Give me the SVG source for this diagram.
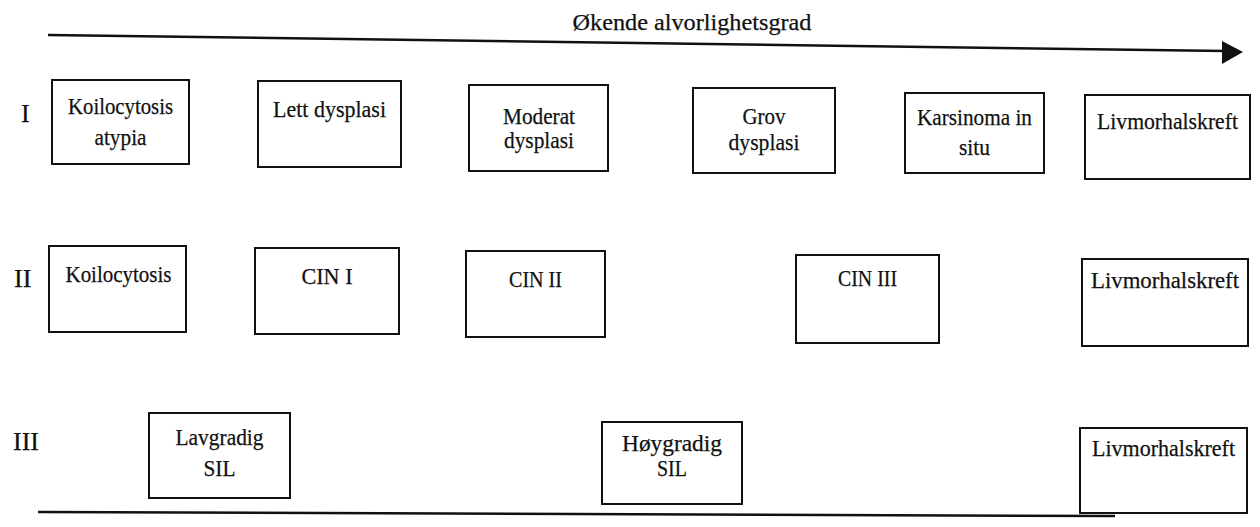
<svg xmlns="http://www.w3.org/2000/svg" width="1260" height="527" viewBox="0 0 1260 527">
<style>
.box{fill:#fff;stroke:#111;stroke-width:2}
.t{font-family:"Liberation Serif","Times New Roman",serif;font-size:24px;fill:#111;stroke:#111;stroke-width:0.25;text-anchor:middle}
.lbl{font-family:"Liberation Serif","Times New Roman",serif;font-size:26px;fill:#111;stroke:#111;stroke-width:0.25}
.ln{stroke:#111;stroke-width:2.5;fill:none}
</style>
<rect width="1260" height="527" fill="#fff"/>
<g id="axis">
<text x="692" y="30" class="t" textLength="239" lengthAdjust="spacingAndGlyphs">Økende alvorlighetsgrad</text>
<line class="ln" x1="48" y1="35" x2="1226" y2="51"/>
<polygon points="1222,41 1243,52 1222,64" fill="#111"/>
<line class="ln" x1="38" y1="512" x2="1115" y2="516"/>
</g>
<g id="row-labels">
<text x="21" y="122" class="lbl">I</text>
<text x="14" y="287" class="lbl">II</text>
<text x="13" y="450" class="lbl">III</text>
</g>
<g id="connectors"></g>
<g id="n1"><rect class="box" x="52" y="80" width="137" height="84"/><text class="t" x="120.5" y="114" textLength="105" lengthAdjust="spacingAndGlyphs">Koilocytosis</text><text class="t" x="120.5" y="145" textLength="52" lengthAdjust="spacingAndGlyphs">atypia</text></g>
<g id="n2"><rect class="box" x="258" y="81" width="143" height="86"/><text class="t" x="329.5" y="117" textLength="113" lengthAdjust="spacingAndGlyphs">Lett dysplasi</text></g>
<g id="n3"><rect class="box" x="469" y="85" width="139" height="86"/><text class="t" x="539" y="124" textLength="72" lengthAdjust="spacingAndGlyphs">Moderat</text><text class="t" x="539" y="148" textLength="70" lengthAdjust="spacingAndGlyphs">dysplasi</text></g>
<g id="n4"><rect class="box" x="693" y="88" width="142" height="85"/><text class="t" x="764" y="124" textLength="43" lengthAdjust="spacingAndGlyphs">Grov</text><text class="t" x="764" y="150" textLength="71" lengthAdjust="spacingAndGlyphs">dysplasi</text></g>
<g id="n5"><rect class="box" x="905" y="93" width="139" height="80"/><text class="t" x="974.5" y="125" textLength="115" lengthAdjust="spacingAndGlyphs">Karsinoma in</text><text class="t" x="974.5" y="155" textLength="31" lengthAdjust="spacingAndGlyphs">situ</text></g>
<g id="n6"><rect class="box" x="1085" y="95" width="165" height="84"/><text class="t" x="1167.5" y="129" textLength="141" lengthAdjust="spacingAndGlyphs">Livmorhalskreft</text></g>
<g id="n7"><rect class="box" x="49" y="246" width="137" height="86"/><text class="t" x="118.5" y="282" textLength="106" lengthAdjust="spacingAndGlyphs">Koilocytosis</text></g>
<g id="n8"><rect class="box" x="255" y="248" width="144" height="86"/><text class="t" x="327" y="284" textLength="51" lengthAdjust="spacingAndGlyphs">CIN I</text></g>
<g id="n9"><rect class="box" x="466" y="251" width="139" height="86"/><text class="t" x="535.5" y="287" textLength="53" lengthAdjust="spacingAndGlyphs">CIN II</text></g>
<g id="n10"><rect class="box" x="796" y="255" width="143" height="88"/><text class="t" x="867.5" y="286" textLength="59" lengthAdjust="spacingAndGlyphs">CIN III</text></g>
<g id="n11"><rect class="box" x="1082" y="259" width="166" height="87"/><text class="t" x="1165" y="288" textLength="148" lengthAdjust="spacingAndGlyphs">Livmorhalskreft</text></g>
<g id="n12"><rect class="box" x="149" y="413" width="141" height="85"/><text class="t" x="219.5" y="445" textLength="88" lengthAdjust="spacingAndGlyphs">Lavgradig</text><text class="t" x="219.5" y="476" textLength="32" lengthAdjust="spacingAndGlyphs">SIL</text></g>
<g id="n13"><rect class="box" x="602" y="422" width="140" height="82"/><text class="t" x="672" y="451" textLength="100" lengthAdjust="spacingAndGlyphs">Høygradig</text><text class="t" x="672" y="476" textLength="30" lengthAdjust="spacingAndGlyphs">SIL</text></g>
<g id="n14"><rect class="box" x="1080" y="428" width="167" height="85"/><text class="t" x="1163.5" y="456" textLength="143" lengthAdjust="spacingAndGlyphs">Livmorhalskreft</text></g>
</svg>
